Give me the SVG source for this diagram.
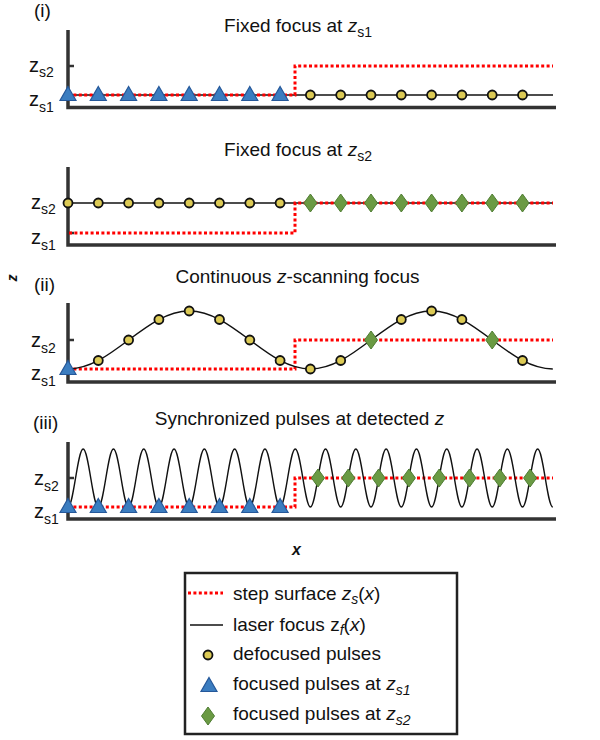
<svg xmlns="http://www.w3.org/2000/svg" xmlns:xlink="http://www.w3.org/1999/xlink" width="600" height="740" viewBox="0 0 600 740">
<style>
text{font-family:"Liberation Sans",Arial,Helvetica,sans-serif;fill:#111}
.t{font-size:19px}
.lab{font-size:20px}
.sub{font-size:14px}
.ax{stroke:#333;stroke-width:3.5;fill:none}
.tick{stroke:#333;stroke-width:2.5;fill:none}
.step{stroke:#ff0000;stroke-width:3;stroke-dasharray:3 2.4;fill:none}
.foc{stroke:#111;stroke-width:1.4;fill:none}
.it{font-style:italic}
</style>
<defs>
<path id="tri" d="M0,-8.5 L8,5.5 L-8,5.5 Z" fill="#3b7dc0" stroke="#25589a" stroke-width="1.2"/>
<circle id="dot" r="4.5" fill="#dcca55" stroke="#111" stroke-width="1.8"/>
<path id="dia" d="M0,-9 L6.5,0 L0,9 L-6.5,0 Z" fill="#6a9a43" stroke="#4f7d33" stroke-width="1"/>
</defs>

<!-- global labels -->
<text class="t" x="34" y="17">(i)</text>
<text class="t" x="34" y="291">(ii)</text>
<text class="t" x="33" y="429">(iii)</text>
<text transform="translate(17,278) rotate(-90)" text-anchor="middle" style="font-size:14px;font-weight:bold;font-style:italic">z</text>
<text x="296.5" y="555" text-anchor="middle" style="font-size:16px;font-weight:bold;font-style:italic">x</text>

<!-- Panel 1 -->
<g id="panel1">
<text class="t" x="298" y="32" text-anchor="middle">Fixed focus at <tspan class="it">z</tspan><tspan class="sub" dy="5">s1</tspan></text>
<path class="ax" d="M68,30 V107.5 H556"/>
<path class="tick" d="M68,66 H74"/>
<text class="lab" x="29" y="72">z<tspan class="sub" dy="5">s2</tspan></text>
<text class="lab" x="29" y="105.5">z<tspan class="sub" dy="6">s1</tspan></text>
<path class="foc" d="M68,95 H553"/>
<path class="step" d="M68,95 H295 V66 H553"/>
<use xlink:href="#tri" x="68" y="95"/><use xlink:href="#tri" x="98.3" y="95"/><use xlink:href="#tri" x="128.6" y="95"/><use xlink:href="#tri" x="158.9" y="95"/><use xlink:href="#tri" x="189.2" y="95"/><use xlink:href="#tri" x="219.5" y="95"/><use xlink:href="#tri" x="249.8" y="95"/><use xlink:href="#tri" x="280.1" y="95"/>
<use xlink:href="#dot" x="310.4" y="95"/><use xlink:href="#dot" x="340.7" y="95"/><use xlink:href="#dot" x="371" y="95"/><use xlink:href="#dot" x="401.3" y="95"/><use xlink:href="#dot" x="431.6" y="95"/><use xlink:href="#dot" x="461.9" y="95"/><use xlink:href="#dot" x="492.2" y="95"/><use xlink:href="#dot" x="522.5" y="95"/>
</g>

<!-- Panel 2 -->
<g id="panel2">
<text class="t" x="298" y="156" text-anchor="middle">Fixed focus at <tspan class="it">z</tspan><tspan class="sub" dy="5">s2</tspan></text>
<path class="ax" d="M68,167 V245 H556"/>
<path class="tick" d="M68,233 H74"/>
<text class="lab" x="31" y="208.5">z<tspan class="sub" dy="5">s2</tspan></text>
<text class="lab" x="31" y="243.5">z<tspan class="sub" dy="6">s1</tspan></text>
<path class="foc" d="M68,203 H553"/>
<path class="step" d="M69,233 H295 V203 H553"/>
<use xlink:href="#dot" x="68" y="203"/><use xlink:href="#dot" x="98.3" y="203"/><use xlink:href="#dot" x="128.6" y="203"/><use xlink:href="#dot" x="158.9" y="203"/><use xlink:href="#dot" x="189.2" y="203"/><use xlink:href="#dot" x="219.5" y="203"/><use xlink:href="#dot" x="249.8" y="203"/><use xlink:href="#dot" x="280.1" y="203"/>
<use xlink:href="#dia" x="310.4" y="203"/><use xlink:href="#dia" x="340.7" y="203"/><use xlink:href="#dia" x="371" y="203"/><use xlink:href="#dia" x="401.3" y="203"/><use xlink:href="#dia" x="431.6" y="203"/><use xlink:href="#dia" x="461.9" y="203"/><use xlink:href="#dia" x="492.2" y="203"/><use xlink:href="#dia" x="522.5" y="203"/>
</g>

<!-- Panel ii -->
<g id="panel-ii">
<text class="t" x="297.5" y="283" text-anchor="middle">Continuous <tspan class="it">z</tspan>-scanning focus</text>
<path class="ax" d="M68,303 V382 H556"/>
<path class="tick" d="M68,340 H74"/>
<text class="lab" x="31" y="346.5">z<tspan class="sub" dy="6">s2</tspan></text>
<text class="lab" x="31" y="380">z<tspan class="sub" dy="6">s1</tspan></text>
<path class="step" d="M68,369 H295 V340 H553"/>
<path class="foc" d="M68,369 C112.04,369 145.16,311 189.2,311 S266.36,369 310.4,369 S387.56,311 431.6,311 S508.76,369 552.8,369"/>
<use xlink:href="#tri" x="68" y="369"/>
<use xlink:href="#dot" x="98.3" y="360.5"/><use xlink:href="#dot" x="128.6" y="340"/><use xlink:href="#dot" x="158.9" y="319.5"/><use xlink:href="#dot" x="189.2" y="311"/><use xlink:href="#dot" x="219.5" y="319.5"/><use xlink:href="#dot" x="249.8" y="340"/><use xlink:href="#dot" x="280.1" y="360.5"/>
<use xlink:href="#dot" x="310.4" y="369"/><use xlink:href="#dot" x="340.7" y="360.5"/><use xlink:href="#dia" x="371" y="340"/><use xlink:href="#dot" x="401.3" y="319.5"/><use xlink:href="#dot" x="431.6" y="311"/><use xlink:href="#dot" x="461.9" y="319.5"/><use xlink:href="#dia" x="492.2" y="340"/><use xlink:href="#dot" x="522.5" y="360.5"/>
</g>

<!-- Panel iii -->
<g id="panel-iii">
<text class="t" x="299.5" y="425" text-anchor="middle">Synchronized pulses at detected <tspan class="it">z</tspan></text>
<path class="ax" d="M68,442 V519 H556"/>
<path class="tick" d="M68,478 H74"/>
<text class="lab" x="34" y="484.5">z<tspan class="sub" dy="6">s2</tspan></text>
<text class="lab" x="34" y="518">z<tspan class="sub" dy="6">s1</tspan></text>
<path class="step" d="M68,507 H295 V478 H553"/>
<path class="foc" d="M68,507 C73.5,507 77.6,449 83.15,449 S92.8,507 98.3,507 S107.9,449 113.45,449 S123.1,507 128.6,507 S138.2,449 143.75,449 S153.4,507 158.9,507 S168.5,449 174.05,449 S183.7,507 189.2,507 S198.8,449 204.35,449 S214,507 219.5,507 S229.1,449 234.65,449 S244.3,507 249.8,507 S259.4,449 264.95,449 S274.6,507 280.1,507 S289.7,449 295.25,449 S304.9,507 310.4,507 S320,449 325.55,449 S335.2,507 340.7,507 S350.3,449 355.85,449 S365.5,507 371,507 S380.6,449 386.15,449 S395.8,507 401.3,507 S410.9,449 416.45,449 S426.1,507 431.6,507 S441.2,449 446.75,449 S456.4,507 461.9,507 S471.5,449 477.05,449 S486.7,507 492.2,507 S501.8,449 507.35,449 S517,507 522.5,507 S532.1,449 537.65,449 S547.3,507 552.8,507"/>
<use xlink:href="#tri" x="68" y="507"/><use xlink:href="#tri" x="98.3" y="507"/><use xlink:href="#tri" x="128.6" y="507"/><use xlink:href="#tri" x="158.9" y="507"/><use xlink:href="#tri" x="189.2" y="507"/><use xlink:href="#tri" x="219.5" y="507"/><use xlink:href="#tri" x="249.8" y="507"/><use xlink:href="#tri" x="280.1" y="507"/>
<use xlink:href="#dia" x="318" y="478"/><use xlink:href="#dia" x="348.3" y="478"/><use xlink:href="#dia" x="378.6" y="478"/><use xlink:href="#dia" x="408.9" y="478"/><use xlink:href="#dia" x="439.2" y="478"/><use xlink:href="#dia" x="469.5" y="478"/><use xlink:href="#dia" x="499.8" y="478"/><use xlink:href="#dia" x="530.1" y="478"/>
</g>

<!-- Legend -->
<g id="legend">
<rect x="185" y="573" width="272" height="161" fill="#fff" stroke="#222" stroke-width="2.5"/>
<path class="step" d="M188,593 H223"/>
<text class="t" x="233" y="600">step surface <tspan class="it">z</tspan><tspan class="sub it" dy="4">s</tspan><tspan dy="-4">(</tspan><tspan class="it">x</tspan>)</text>
<path class="foc" d="M190,625 H223"/>
<text class="t" x="233" y="630.5">laser focus z<tspan class="sub it" dy="4">f</tspan><tspan dy="-4">(</tspan><tspan class="it">x</tspan>)</text>
<use xlink:href="#dot" x="208" y="655"/>
<text class="t" x="233" y="659.5">defocused pulses</text>
<use xlink:href="#tri" x="209" y="686"/>
<text class="t" x="233" y="689.5">focused pulses at <tspan class="it">z</tspan><tspan class="sub it" dy="5">s1</tspan></text>
<use xlink:href="#dia" x="208" y="716"/>
<text class="t" x="233" y="719.5">focused pulses at <tspan class="it">z</tspan><tspan class="sub it" dy="5">s2</tspan></text>
</g>
</svg>
